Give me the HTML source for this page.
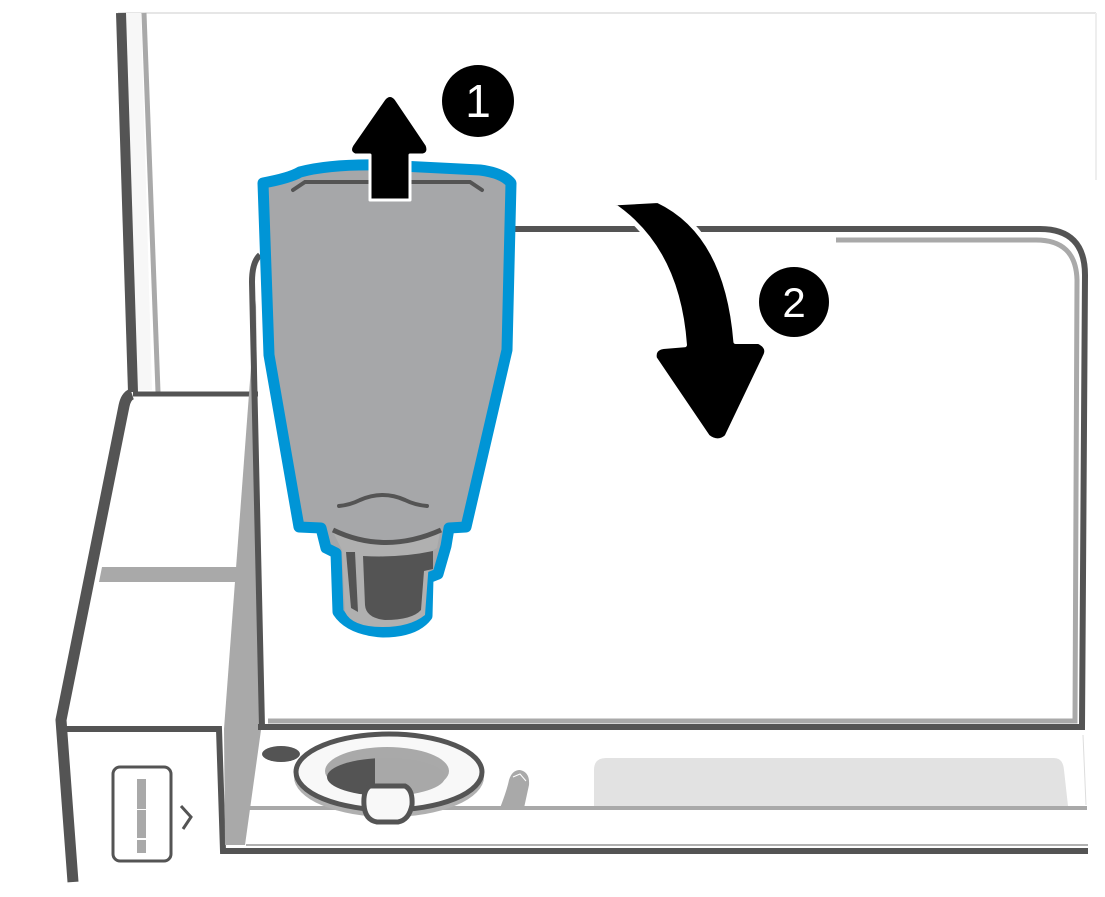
<!DOCTYPE html>
<html><head><meta charset="utf-8"><style>html,body{margin:0;padding:0;background:#fff}svg{display:block}</style></head>
<body>
<svg width="1105" height="897" viewBox="0 0 1105 897" xmlns="http://www.w3.org/2000/svg">
<rect width="1105" height="897" fill="#fff"/>
<line x1="118" y1="13" x2="1096" y2="13" stroke="#e6e6e6" stroke-width="2"/>
<line x1="1096" y1="13" x2="1096" y2="180" stroke="#eeeeee" stroke-width="2"/>
<!-- left post -->
<polygon points="126,13 141,13 152,390 134,390" fill="#f7f7f7"/>
<line x1="121" y1="13" x2="133" y2="392" stroke="#545454" stroke-width="10"/>
<line x1="144" y1="13" x2="158" y2="392" stroke="#a9a9a9" stroke-width="5"/>
<!-- left block -->
<path d="M133,394 L258,394" stroke="#545454" stroke-width="5" fill="none"/>
<polygon points="102,567 242,567 240,582 99,582" fill="#a9a9a9"/>
<path d="M132,394 Q126,396 124,406 L61,720 L73,882" stroke="#545454" stroke-width="11" fill="none" stroke-linejoin="round"/>
<path d="M64,729 L219,729 L223,851 L1088,851" stroke="#545454" stroke-width="6" fill="none"/>
<polygon points="256,300 261,730 245,845 225,845 224,729" fill="#a9a9a9"/>
<!-- main frame -->
<path d="M262,727 L252,282 Q252,262 260,255" stroke="#545454" stroke-width="6" fill="none"/>
<path d="M262,229 L1040,229 Q1085,229 1085,275 L1082,727 L258,727" stroke="#545454" stroke-width="6" fill="none"/>
<path d="M836,240 L1036,240 Q1076,240 1077,280 L1075,721 L268,721" stroke="#a9a9a9" stroke-width="5" fill="none"/>
<line x1="1083" y1="735" x2="1086" y2="805" stroke="#dddddd" stroke-width="1"/>
<!-- lower deck -->
<line x1="245" y1="808" x2="1087" y2="808" stroke="#a9a9a9" stroke-width="4"/>
<line x1="246" y1="845" x2="1088" y2="845" stroke="#b0b0b0" stroke-width="2"/>
<path d="M594,806 L594,770 Q594,758 606,758 L1054,758 Q1063,758 1064,770 L1068,806 Z" fill="#e2e2e2"/>
<ellipse cx="281" cy="754" rx="19" ry="8" fill="#545454"/>
<!-- ring -->
<ellipse cx="389" cy="777" rx="95" ry="40" fill="#b0b0b0"/>
<ellipse cx="389" cy="772" rx="93" ry="38" fill="#f8f8f8" stroke="#545454" stroke-width="5"/>
<ellipse cx="387" cy="771" rx="62" ry="24" fill="#a9a9a9"/>
<clipPath id="hole"><ellipse cx="386" cy="777" rx="59" ry="19"/></clipPath>
<g clip-path="url(#hole)"><rect x="320" y="750" width="55" height="60" fill="#545454"/><rect x="375" y="750" width="80" height="60" fill="#a8a8a8"/></g>
<path d="M370,786 L405,786 Q413,790 412,805 Q409,820 398,822 L377,822 Q365,820 364,805 Q363,790 370,786 Z" fill="#f8f8f8" stroke="#545454" stroke-width="5"/>
<path d="M500,808 Q507,790 509,780 Q512,770 520,770 Q530,772 529,785 L524,808 Z" fill="#a9a9a9"/>
<path d="M513,777 L520,774 L526,781" stroke="#fff" stroke-width="1" fill="none"/>
<!-- level window -->
<rect x="113" y="767" width="58" height="94" rx="7" fill="#fff" stroke="#545454" stroke-width="3"/>
<rect x="137" y="779" width="9" height="30" fill="#a9a9a9"/>
<rect x="137" y="810" width="9" height="28" fill="#a9a9a9"/>
<rect x="137" y="840" width="9" height="13" fill="#a9a9a9"/>
<path d="M181,806 L191,817 L183,829" stroke="#545454" stroke-width="3" fill="none"/>
<!-- bottle -->
<path d="M263,183 Q290,178 300,172 Q330,164 380,165 L480,170 Q503,173 511,183 L507,350 L466,527 L449,528 L446,546 L438,574 L428,578 L427,616 Q415,632 383,632 Q350,630 338,612 L336,553 L326,548 L321,528 L299,527 L269,355 Z" fill="#a6a7a9" stroke="#0095d6" stroke-width="11" stroke-linejoin="round"/>
<path d="M293,190 L305,182 L470,182 L482,190" stroke="#545454" stroke-width="4" fill="none" stroke-linecap="round"/>
<path d="M339,506 Q350,505 360,500 Q383,490 405,500 Q415,505 427,506" stroke="#545454" stroke-width="4" fill="none" stroke-linecap="round"/>
<!-- cup -->
<path d="M333,532 Q385,555 440,532 L437,548 L430,552 L428,575 L425,615 Q410,627 383,627 Q352,627 345,612 L342,550 Z" fill="#b0b0b0"/>
<path d="M333,530 Q385,555 441,530" stroke="#545454" stroke-width="5" fill="none"/>
<path d="M363,556 Q400,558 433,551 L433,569 L424,571 L421,610 Q412,620 385,620 Q366,618 365,605 Z" fill="#545454"/>
<path d="M346,552 L355,552 L358,612 L351,608 Z" fill="#545454"/>
<!-- arrow 1 -->
<path d="M370,200 L370,155 L355,155 Q348,152 352,145 L384,99 Q390,92 396,99 L427,145 Q430,153 423,155 L410,155 L410,200 Z" fill="#000" stroke="#fff" stroke-width="3" stroke-linejoin="round"/>
<circle cx="478" cy="101" r="36" fill="#000"/>
<text x="478" y="117" text-anchor="middle" font-family="Liberation Sans, sans-serif" font-size="46" fill="#fff">1</text>
<!-- arrow 2 -->
<g transform="translate(550,180) scale(0.354,0.3333)">
<path d="M170,70 L305,62 Q500,160 525,485 L590,485 Q620,500 610,525 L500,770 Q475,795 445,770 L295,535 Q290,505 320,500 L380,495 Q360,200 170,70 Z" fill="#000" stroke="#fff" stroke-width="14" stroke-linejoin="round"/>
</g>
<circle cx="794" cy="302" r="35" fill="#000"/>
<text x="794" y="317" text-anchor="middle" font-family="Liberation Sans, sans-serif" font-size="42" fill="#fff">2</text>
</svg>
</body></html>
